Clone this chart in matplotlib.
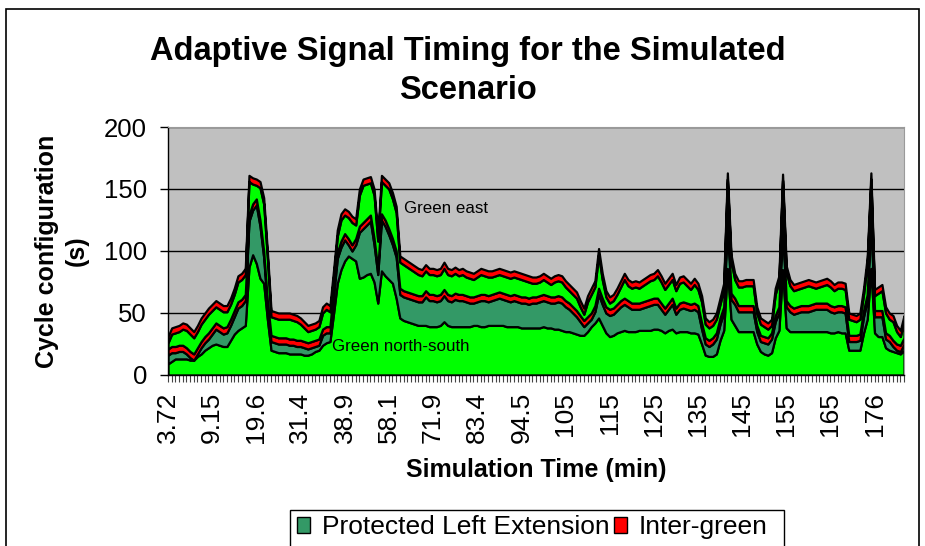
import matplotlib.pyplot as plt
from matplotlib.patches import Patch, Rectangle
import numpy as np

plt.rcParams['font.family'] = ['Liberation Sans', 'DejaVu Sans']

# category labels (every 12th cycle), simulation time in min
time_labels = ["3.72", "9.15", "19.6", "31.4", "38.9", "58.1", "71.9", "83.4", "94.5",
               "105", "115", "125", "135", "145", "155", "165", "176"]

# stacked series, seconds per cycle
green_ns = [9, 11, 13, 13, 13, 13, 12, 12, 15, 17,
            20, 22, 24, 25, 24, 23, 23, 28, 33, 36,
            38, 40, 87, 97, 90, 78, 74, 45, 20, 19,
            18, 18, 18, 17, 17, 17, 17, 16, 16, 17,
            19, 20, 24, 26, 27, 50, 74, 85, 92, 96,
            94, 92, 78, 79, 81, 82, 75, 58, 84, 80,
            77, 74, 62, 46, 44, 43, 42, 41, 40, 40,
            40, 39, 39, 39, 40, 43, 40, 39, 39, 39,
            39, 39, 39, 40, 40, 39, 39, 40, 40, 40,
            40, 40, 39, 39, 39, 39, 38, 38, 38, 38,
            38, 38, 39, 38, 38, 37, 37, 36, 35, 35,
            34, 33, 32, 32, 35, 39, 42, 46, 40, 34,
            31, 32, 34, 35, 36, 35, 35, 35, 36, 36,
            36, 36, 37, 37, 36, 34, 36, 37, 34, 35,
            35, 35, 34, 34, 33, 25, 16, 15, 15, 17,
            28, 36, 86, 45, 40, 35, 35, 35, 35, 35,
            25, 19, 17, 16, 18, 30, 36, 85, 38, 35,
            35, 35, 35, 35, 35, 35, 35, 35, 35, 35,
            34, 34, 35, 34, 34, 20, 20, 20, 20, 34,
            45, 86, 34, 31, 31, 22, 20, 19, 18, 17,
            20]

left_ext = [7, 7, 5, 6, 6, 4, 2, 0, 2, 5,
            6, 7, 9, 12, 11, 10, 11, 12, 14, 18,
            18, 20, 37, 36, 47, 42, 21, 10, 7, 7,
            7, 7, 7, 7, 7, 6, 6, 6, 5, 5,
            4, 4, 8, 8, 7, 15, 20, 18, 17, 9,
            6, 13, 37, 39, 40, 42, 30, 23, 41, 40,
            36, 31, 33, 19, 19, 19, 19, 19, 19, 19,
            23, 21, 21, 20, 20, 21, 20, 20, 22, 21,
            21, 20, 19, 18, 19, 21, 21, 19, 20, 21,
            22, 21, 21, 20, 21, 20, 20, 20, 19, 20,
            20, 21, 21, 21, 20, 21, 22, 22, 20, 18,
            16, 14, 11, 7, 7, 6, 9, 19, 17, 16,
            17, 17, 18, 20, 21, 20, 18, 18, 17, 18,
            19, 20, 20, 20, 17, 15, 17, 20, 15, 18,
            19, 18, 18, 19, 18, 12, 9, 8, 10, 12,
            13, 14, 42, 16, 17, 16, 16, 16, 16, 16,
            10, 8, 9, 9, 11, 13, 14, 40, 17, 16,
            14, 15, 16, 16, 16, 17, 18, 18, 18, 18,
            17, 16, 16, 17, 16, 7, 7, 7, 8, 13,
            15, 42, 13, 16, 16, 7, 7, 4, 2, 2,
            5]

green_east = [5, 10, 11, 11, 13, 14, 14, 13, 13, 14,
              14, 15, 14, 13, 13, 13, 12, 12, 13, 16,
              16, 16, 27, 16, 11, 26, 38, 35, 15, 15,
              15, 15, 15, 16, 15, 15, 13, 11, 9, 9,
              9, 10, 13, 14, 12, 10, 13, 17, 15, 17,
              18, 11, 25, 30, 28, 26, 35, 22, 26, 28,
              32, 32, 31, 21, 21, 20, 19, 18, 17, 16,
              16, 16, 16, 16, 16, 17, 16, 16, 16, 15,
              16, 15, 15, 14, 15, 16, 15, 15, 14, 14,
              14, 14, 14, 14, 14, 14, 14, 13, 13, 11,
              11, 11, 12, 11, 10, 12, 12, 12, 11, 10,
              10, 10, 7, 5, 12, 15, 15, 27, 15, 8,
              5, 6, 8, 11, 15, 12, 12, 13, 12, 13,
              14, 15, 15, 18, 17, 15, 15, 15, 14, 16,
              16, 14, 12, 15, 13, 17, 11, 10, 10, 11,
              11, 14, 25, 26, 15, 15, 15, 16, 16, 16,
              10, 9, 8, 7, 6, 17, 20, 27, 23, 16,
              14, 14, 14, 15, 16, 14, 12, 13, 14, 15,
              15, 13, 14, 14, 14, 13, 12, 11, 12, 13,
              25, 25, 12, 14, 16, 16, 13, 15, 10, 7,
              13]

inter_green = [5, 5, 5, 5, 5, 5, 5, 5, 5, 5,
               5, 5, 5, 5, 5, 5, 5, 5, 5, 5,
               5, 5, 5, 5, 5, 5, 5, 5, 5, 5,
               5, 5, 5, 5, 5, 5, 5, 5, 5, 5,
               5, 5, 5, 5, 5, 5, 5, 5, 5, 5,
               5, 5, 5, 5, 5, 5, 5, 5, 5, 5,
               5, 5, 5, 5, 5, 5, 5, 5, 5, 5,
               5, 5, 5, 5, 5, 5, 5, 5, 5, 5,
               5, 5, 5, 5, 5, 5, 5, 5, 5, 5,
               5, 5, 5, 5, 5, 5, 5, 5, 5, 5,
               5, 5, 5, 5, 5, 5, 5, 5, 5, 5,
               5, 5, 5, 5, 5, 5, 5, 5, 5, 5,
               5, 5, 5, 5, 5, 5, 5, 5, 5, 5,
               5, 5, 5, 5, 5, 5, 5, 5, 5, 5,
               5, 5, 5, 5, 5, 5, 5, 5, 5, 5,
               5, 5, 5, 5, 5, 5, 5, 5, 5, 5,
               5, 5, 5, 5, 5, 5, 5, 5, 5, 5,
               5, 5, 5, 5, 5, 5, 5, 5, 5, 5,
               5, 5, 5, 5, 5, 5, 5, 5, 5, 5,
               5, 5, 5, 5, 5, 5, 5, 5, 5, 5,
               5]

W, H = 925, 546
x = np.arange(len(green_ns))

fig = plt.figure(figsize=(W / 100, H / 100), dpi=100)
ax = fig.add_axes([168 / W, 1 - 375 / H, (904 - 168) / W, (375 - 127) / H])
ax.set_facecolor('#C0C0C0')

layers = [green_ns, left_ext, inter_green, green_east, inter_green]
colors = ['#00FF00', '#339966', '#FF0000', '#00FF00', '#FF0000']
ax.stackplot(x, layers, colors=colors, edgecolor='black', linewidth=1.6, zorder=2)

ax.set_xlim(0, len(green_ns) - 1)
ax.set_ylim(0, 200)
ax.set_yticks([0, 50, 100, 150, 200])
ax.yaxis.grid(True, color='black', linewidth=1)
ax.set_axisbelow(True)

ax.set_xticks(np.arange(0, len(time_labels) * 12, 12))
ax.set_xticklabels(time_labels, rotation=90)
ax.set_xticks(x, minor=True)
ax.tick_params(axis='x', which='both', length=5, width=0.8, color='#444444',
               labelsize=19, pad=7)
ax.tick_params(axis='y', length=6, width=1, labelsize=18.5, pad=9)

for side in ['top', 'right']:
    ax.spines[side].set_color('#9a9a9a')
for side in ['left', 'bottom']:
    ax.spines[side].set_color('black')
    ax.spines[side].set_linewidth(1)

ax.text(64.2, 134.5, 'Green east', fontsize=12.2, va='center', ha='left', zorder=5)
ax.text(44.6, 23, 'Green north-south', fontsize=12.2, va='center', ha='left', zorder=5)

fig.text(468 / W, 1 - 71 / H, 'Adaptive Signal Timing for the Simulated\nScenario',
         ha='center', va='center', fontsize=23.5, weight='bold', linespacing=1.35)
fig.text(62 / W, 1 - 251 / H, 'Cycle configuration\n(s)', rotation=90,
         ha='center', va='center', multialignment='center',
         fontsize=18, weight='bold', linespacing=1.3)
fig.text(536 / W, 1 - 470 / H, 'Simulation Time (min)', ha='center', va='center',
         fontsize=18, weight='bold')

# outer chart border and the legend box, both run past the bottom edge
fig.add_artist(Rectangle((6 / W, -0.1), (919 - 6) / W, 1 - 9 / H + 0.1,
                         transform=fig.transFigure, fill=False, edgecolor='black', lw=1.2))
fig.add_artist(Rectangle((290 / W, -0.1), 494 / W, 1 - 510 / H + 0.1,
                         transform=fig.transFigure, fill=False, edgecolor='black', lw=1))

handles = [Patch(facecolor='#339966', edgecolor='black', label='Protected Left Extension'),
           Patch(facecolor='#FF0000', edgecolor='black', label='Inter-green')]
fig.legend(handles=handles, loc='center left', bbox_to_anchor=(297 / W, 1 - 527 / H),
           ncol=2, frameon=False, fontsize=19, handlelength=0.5, handleheight=0.55,
           handletextpad=0.45, columnspacing=0.15, borderpad=0, borderaxespad=0)

fig.savefig('out.png', dpi=100)
